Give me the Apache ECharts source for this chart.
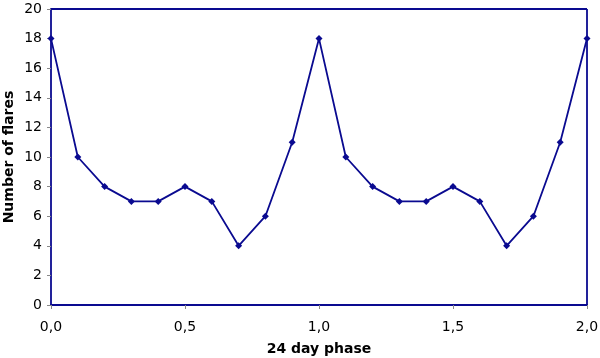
<!DOCTYPE html>
<html>
<head>
<meta charset="utf-8">
<script src="https://cdn.jsdelivr.net/npm/echarts@6/dist/echarts.min.js"></script>
<style>
  html, body { margin: 0; padding: 0; background: #fff; }
  #chart { width: 600px; height: 358px; }
</style>
</head>
<body>
<div id="chart"></div>
<script>
// phase 0.0 .. 2.0 in steps of 0.1
const phases = [0, 0.1, 0.2, 0.3, 0.4, 0.5, 0.6, 0.7, 0.8, 0.9, 1.0,
                1.1, 1.2, 1.3, 1.4, 1.5, 1.6, 1.7, 1.8, 1.9, 2.0];
const flares = [18, 10, 8, 7, 7, 8, 7, 4, 6, 11, 18,
                10, 8, 7, 7, 8, 7, 4, 6, 11, 18];

const navy = '#0a0a90';
const font = 'DejaVu Sans, Verdana, sans-serif';

const chart = echarts.init(document.getElementById('chart'));
chart.setOption({
  animation: false,
  grid: { left: 51, top: 9, right: 13, bottom: 53, outerBoundsMode: 'none' },
  xAxis: {
    type: 'value',
    min: 0, max: 2, interval: 0.5,
    name: '24 day phase',
    nameLocation: 'middle',
    nameGap: 37,
    nameMoveOverlap: false,
    nameTextStyle: { fontFamily: font, fontSize: 14, fontWeight: 'bold', color: '#000' },
    axisLine: { lineStyle: { color: navy, width: 1.8 } },
    axisTick: { show: true, length: 4, lineStyle: { color: '#888' } },
    axisLabel: {
      fontFamily: font, fontSize: 14, color: '#000', margin: 15,
      formatter: v => v.toFixed(1).replace('.', ',')
    },
    splitLine: { show: false }
  },
  yAxis: {
    type: 'value',
    min: 0, max: 20, interval: 2,
    name: 'Number of flares',
    nameLocation: 'middle',
    nameRotate: 90,
    nameGap: 35,
    nameMoveOverlap: false,
    nameTextStyle: { fontFamily: font, fontSize: 14, fontWeight: 'bold', color: '#000' },
    axisLine: { show: true, lineStyle: { color: navy, width: 1.8 } },
    axisTick: { show: true, length: 4, lineStyle: { color: '#888' } },
    axisLabel: { fontFamily: font, fontSize: 14, color: '#000', margin: 9 },
    splitLine: { show: false }
  },
  series: [
    {
      type: 'line',
      data: phases.map((p, i) => [p, flares[i]]),
      symbol: 'diamond',
      symbolSize: 7,
      lineStyle: { color: navy, width: 1.8 },
      itemStyle: { color: navy },
      markLine: {
        silent: true,
        symbol: 'none',
        label: { show: false },
        lineStyle: { color: navy, width: 1.8, type: 'solid' },
        data: [{ yAxis: 20 }, { xAxis: 2 }]
      }
    }
  ]
});
</script>
</body>
</html>
